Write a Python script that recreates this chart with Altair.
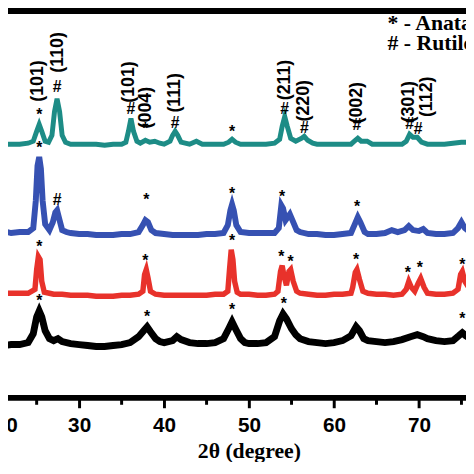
import altair as alt
import pandas as pd

# ---- data (2theta, intensity in arbitrary offset units) ----
teal_x = [20, 21, 22, 23, 24, 24.6, 25.0, 25.3, 25.6, 26.0, 26.4, 26.8, 27.1, 27.4, 27.7, 28.0, 28.4, 29, 30, 31, 32, 33, 34, 35, 35.5, 35.8, 36.1, 36.4, 36.8, 37.2, 37.8, 38.3, 38.9, 39.5, 40, 40.7, 41.0, 41.3, 41.6, 42, 43, 43.8, 44.5, 45, 46, 47, 47.6, 48.0, 48.4, 49, 50, 51, 52, 53, 53.6, 53.9, 54.2, 54.5, 54.9, 55.5, 56.2, 56.5, 56.9, 57.5, 58, 59, 60, 61, 62, 62.4, 62.8, 63.2, 63.9, 64.5, 65, 66, 67, 68, 68.5, 68.9, 69.3, 69.8, 70.3, 71, 72, 73, 74, 75, 76]
teal_y = [257, 257, 257, 257, 258, 260, 270, 277, 270, 260, 259, 266, 290, 303, 290, 266, 259, 257, 257, 257, 257, 256, 257, 257, 259, 270, 283, 270, 260, 258, 261, 259, 260, 258, 257, 260, 266, 270, 266, 259, 257, 260, 257, 257, 257, 257, 259, 262, 259, 257, 257, 257, 257, 258, 262, 275, 285, 275, 263, 260, 263, 265, 261, 258, 257, 257, 257, 257, 257, 260, 263, 260, 260, 257, 257, 257, 257, 257, 260, 267, 264, 264, 259, 257, 257, 257, 258, 259, 259]

blue_x = [20, 21, 22, 23, 24, 24.6, 24.9, 25.1, 25.3, 25.5, 25.7, 26.0, 26.5, 26.9, 27.2, 27.4, 27.7, 28, 28.5, 29, 30, 31, 32, 33, 34, 35, 36, 37, 37.5, 37.8, 38.1, 38.5, 39, 40, 41, 42, 43, 44, 45, 46, 47, 47.5, 47.8, 48.0, 48.2, 48.5, 49, 50, 51, 52, 53, 53.5, 53.8, 54.0, 54.3, 54.8, 55.1, 55.6, 56, 57, 58, 59, 60, 61, 62, 62.4, 62.8, 63.1, 63.6, 64, 65, 66, 66.8, 67.5, 68.3, 68.8, 69.3, 70, 70.5, 71, 72, 73, 74, 74.6, 75.0, 75.4, 76]
blue_y = [168, 169, 167, 168, 168, 172, 200, 235, 244, 232, 200, 176, 170, 178, 188, 190, 180, 170, 168, 167, 166, 166, 165, 165, 165, 166, 166, 168, 175, 180, 178, 170, 167, 166, 165, 165, 165, 165, 166, 166, 167, 175, 190, 196, 190, 175, 168, 167, 167, 167, 167, 172, 195, 192, 180, 186, 180, 170, 168, 166, 166, 165, 165, 166, 167, 175, 183, 178, 168, 166, 166, 167, 170, 168, 170, 174, 170, 169, 171, 167, 166, 166, 167, 172, 178, 172, 168]

red_x = [20, 21, 22, 23, 24, 24.8, 25.0, 25.2, 25.4, 25.6, 25.9, 26.5, 27, 28, 29, 30, 31, 32, 33, 34, 35, 36, 37, 37.5, 37.7, 37.9, 38.1, 38.4, 39, 40, 41, 42, 43, 44, 45, 46, 47, 47.5, 47.7, 47.9, 48.1, 48.3, 48.6, 49, 50, 51, 52, 53, 53.4, 53.7, 53.9, 54.1, 54.4, 54.7, 54.9, 55.2, 55.6, 56, 57, 58, 59, 60, 61, 62, 62.2, 62.5, 62.7, 63.0, 63.4, 64, 65, 66, 67, 68, 68.5, 68.8, 69.1, 69.5, 69.9, 70.2, 70.6, 71, 72, 73, 74, 74.6, 74.9, 75.1, 75.4, 76]
red_y = [107, 106, 106, 106, 106, 110, 130, 143, 140, 118, 107, 106, 105, 105, 104, 104, 104, 103, 103, 103, 104, 104, 105, 108, 125, 130, 122, 108, 105, 104, 104, 104, 104, 104, 104, 105, 105, 108, 130, 150, 140, 118, 107, 105, 105, 104, 104, 105, 108, 128, 134, 124, 114, 128, 130, 118, 108, 106, 105, 104, 104, 105, 105, 106, 112, 127, 130, 120, 108, 106, 105, 105, 104, 105, 110, 118, 112, 108, 116, 121, 112, 106, 105, 105, 106, 110, 125, 128, 118, 110]

black_x = [20, 21, 22, 23, 24, 24.6, 25.0, 25.3, 25.6, 26.0, 26.5, 27, 27.5, 28, 29, 30, 31, 32, 33, 34, 35, 36, 37, 37.6, 38.0, 38.4, 39, 39.5, 40, 41, 41.5, 42, 43, 44, 45, 46, 47, 47.6, 48.0, 48.4, 49, 49.5, 50, 51, 52, 53, 53.6, 54.0, 54.4, 55, 55.5, 56, 57, 58, 59, 60, 61, 62, 62.6, 63, 63.5, 64, 65, 66, 67, 68, 69, 69.8, 70.5, 71, 72, 73, 74, 74.7, 75.1, 75.5, 76]
black_y = [53, 53, 54, 54, 56, 65, 82, 88, 82, 68, 60, 58, 60, 57, 55, 54, 53, 52, 52, 53, 54, 56, 62, 68, 72, 67, 60, 57, 56, 58, 62, 59, 56, 55, 55, 56, 60, 70, 77, 70, 60, 56, 55, 55, 56, 62, 78, 85, 80, 70, 64, 60, 57, 56, 55, 56, 58, 63, 72, 68, 60, 58, 57, 56, 57, 59, 62, 64, 62, 60, 58, 57, 58, 63, 66, 63, 60]

# phase markers: (2theta, y, symbol)
mark_x = [25.3, 27.4, 36.1, 37.8, 41.3, 48.0, 54.2, 56.5, 62.7, 68.9, 69.9,
          25.3, 27.4, 37.9, 48.0, 53.9, 62.7,
          25.3, 37.8, 48.0, 53.8, 54.9, 62.6, 68.7, 70.1, 75.1,
          25.3, 38.0, 48.0, 54.1, 75.1]
mark_y = [287, 315, 293, 272, 278, 269, 293, 273, 276, 277, 272,
          253, 200, 200, 206, 203, 193,
          153, 139, 159, 143, 138, 140, 126, 132, 135,
          98, 82, 89, 95, 80]
mark_s = ["*", "#", "#", "*", "#", "*", "#", "#", "#", "#", "#",
          "*", "#", "*", "*", "*", "*",
          "*", "*", "*", "*", "*", "*", "*", "*", "*",
          "*", "*", "*", "*", "*"]

# hkl labels on top pattern
hkl_x = [25.2, 27.5, 35.9, 37.9, 41.3, 54.2, 56.5, 62.7, 68.8, 71.0]
hkl_y = [321, 350, 320, 294, 309, 322, 301, 299, 300, 305]
hkl_t = ["(101)", "(110)", "(101)", "(004)", "(111)", "(211)", "(220)", "(002)", "(301)", "(112)"]

legend_t = ["* - Anatase", "# - Rutile"]
legend_y = [380, 359]
legend_x = [66.3, 66.3]

major_ticks = [20, 30, 40, 50, 60, 70]
minor_ticks = [25, 35, 45, 55, 65, 75]

series = ["black", "red", "blue", "teal"]
colors = ["#000000", "#e8322b", "#3651b2", "#1d8c86"]

frames = []
for name, xs, ys, w in [("black", black_x, black_y, 7), ("red", red_x, red_y, 5.5),
                        ("blue", blue_x, blue_y, 6), ("teal", teal_x, teal_y, 5)]:
    frames.append(pd.DataFrame({"x": xs, "y": ys, "s": name, "w": w}))
lines_df = pd.concat(frames)

xscale = alt.Scale(domain=[20, 76], nice=False, zero=False)
yscale = alt.Scale(domain=[0, 392], nice=False, zero=False)

base_x = alt.X("x:Q", scale=xscale,
               axis=alt.Axis(values=major_ticks, format="d", title="2θ (degree)",
                             grid=False, domainColor="black", domainWidth=3,
                             tickColor="black", tickWidth=3, tickSize=10,
                             labelFont="Liberation Sans", labelFontSize=21,
                             labelFontWeight="bold", labelColor="black", labelPadding=7,
                             titleFont="Liberation Serif", titleFontSize=22,
                             titleFontWeight="bold", titleColor="black",
                             titleX=258, titleY=60, titleAlign="center",
                             titleBaseline="alphabetic", titleAnchor="start"))
base_y = alt.Y("y:Q", scale=yscale, axis=None)

lines = alt.Chart(lines_df).mark_line(clip=True, interpolate="linear").encode(
    x=base_x, y=base_y,
    color=alt.Color("s:N", scale=alt.Scale(domain=series, range=colors), legend=None),
    strokeWidth=alt.StrokeWidth("w:Q", scale=None),
    detail="s:N",
)

marks_df = pd.DataFrame({"x": mark_x, "y": mark_y, "t": mark_s})
marks = alt.Chart(marks_df).mark_text(font="Liberation Sans", fontWeight="bold", fontSize=16,
                                      color="black", baseline="middle").encode(
    x=alt.X("x:Q", scale=xscale), y=alt.Y("y:Q", scale=yscale), text="t:N")

hkl_df = pd.DataFrame({"x": hkl_x, "y": hkl_y, "t": hkl_t})
hkl = alt.Chart(hkl_df).mark_text(font="Liberation Sans", fontWeight="bold", fontSize=18,
                                  color="black", angle=270, align="center", baseline="middle").encode(
    x=alt.X("x:Q", scale=xscale), y=alt.Y("y:Q", scale=yscale), text="t:N")

leg_df = pd.DataFrame({"x": legend_x, "y": legend_y, "t": legend_t})
leg = alt.Chart(leg_df).mark_text(font="Liberation Serif", fontWeight="bold", fontSize=22,
                                  color="black", align="left", baseline="middle").encode(
    x=alt.X("x:Q", scale=xscale), y=alt.Y("y:Q", scale=yscale), text="t:N")

minor_df = pd.DataFrame({"x": minor_ticks})
minor = alt.Chart(minor_df).mark_rule(color="black", strokeWidth=3).encode(
    x=alt.X("x:Q", scale=xscale), y=alt.value(392), y2=alt.value(399))

chart = alt.layer(lines, minor, marks, hkl, leg).properties(
    width=482, height=392,
    padding={"left": -14, "top": 0, "right": -4, "bottom": 62},
    autosize=alt.AutoSizeParams(type="none"),
    background="white",
).configure_view(stroke="black", strokeWidth=6)

chart.save("out.html", embed_options={"renderer": "svg", "actions": False})
